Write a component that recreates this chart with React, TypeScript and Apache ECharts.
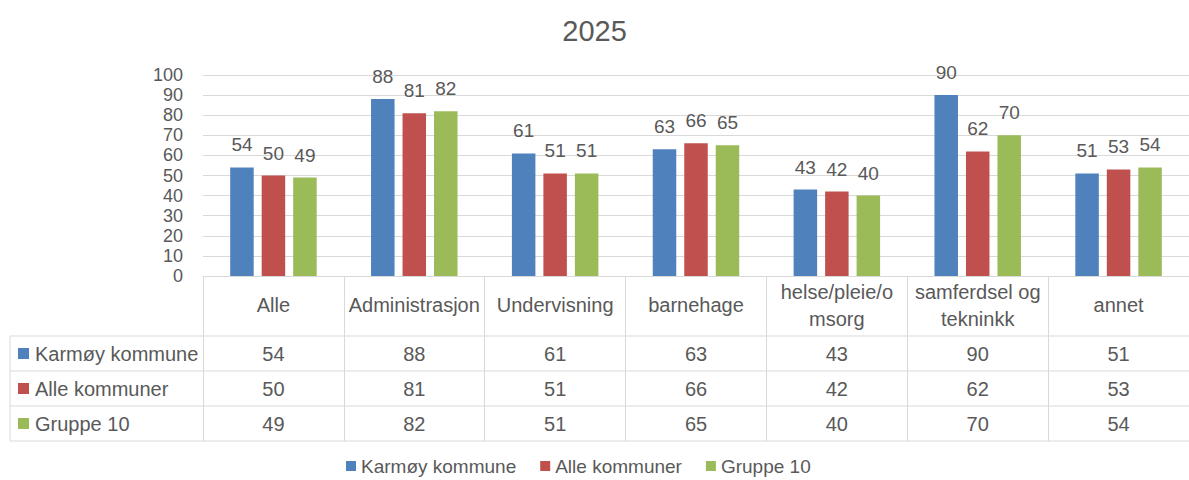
import React, { useEffect, useRef } from "react";
import * as echarts from "echarts";

const categories = [
  "Alle",
  "Administrasjon",
  "Undervisning",
  "barnehage",
  "helse/pleie/o\nmsorg",
  "samferdsel og\ntekninkk",
  "annet",
];
const seriesNames = ["Karmøy kommune", "Alle kommuner", "Gruppe 10"];
const karmoy = [54, 88, 61, 63, 43, 90, 51];
const alleKommuner = [50, 81, 51, 66, 42, 62, 53];
const gruppe10 = [49, 82, 51, 65, 40, 70, 54];
const colors = ["#4F81BD", "#C0504D", "#9BBB59"];
const yTicks = { min: 0, max: 100, interval: 10 };

const FONT = "'Liberation Sans', Arial, sans-serif";
const TEXT = "#595959";
const LINE = "#D9D9D9";

export default function App() {
  const ref = useRef<HTMLDivElement>(null);
  useEffect(() => {
    if (!ref.current) return;
    const chart = echarts.init(ref.current, null, { renderer: "svg" });
    const values = [karmoy, alleKommuner, gruppe10];
    const axisTop = 276;
    const rowLines = [336, 371, 406, 441];
    const rowCenters = [353.5, 388.5, 423.5];

    const valueAxes = values.map((arr, k) => ({
      type: "category",
      data: categories,
      position: "bottom",
      gridIndex: 0,
      axisLine: { show: false },
      axisTick: { show: false },
      splitLine: { show: false },
      axisLabel: {
        interval: 0,
        margin: rowCenters[k] - axisTop,
        verticalAlign: "middle",
        fontSize: 20,
        fontFamily: FONT,
        color: TEXT,
        formatter: (_v: string, i: number) => String(arr[i]),
      },
    }));

    const graphics: any[] = [];
    rowLines.forEach((y) =>
      graphics.push({
        type: "line",
        shape: { x1: 10, y1: y, x2: 1189, y2: y },
        style: { stroke: LINE, lineWidth: 1 },
      })
    );
    graphics.push({
      type: "line",
      shape: { x1: 10, y1: rowLines[0], x2: 10, y2: rowLines[3] },
      style: { stroke: LINE, lineWidth: 1 },
    });
    seriesNames.forEach((name, k) => {
      graphics.push({
        type: "rect",
        shape: { x: 18, y: rowCenters[k] - 5.5, width: 11, height: 11 },
        style: { fill: colors[k] },
      });
      graphics.push({
        type: "text",
        x: 35,
        y: rowCenters[k],
        style: {
          text: name,
          fill: TEXT,
          fontSize: 20,
          fontFamily: FONT,
          verticalAlign: "middle",
          align: "left",
        },
      });
    });

    chart.setOption({
      animation: false,
      backgroundColor: "#ffffff",
      title: {
        text: "2025",
        left: "center",
        top: 11,
        textStyle: { fontSize: 29, fontWeight: "normal", color: TEXT, fontFamily: FONT },
      },
      legend: {
        data: seriesNames,
        left: 346,
        top: 456,
        padding: 0,
        icon: "rect",
        itemWidth: 10,
        itemHeight: 10,
        itemGap: 24,
        textStyle: { fontSize: 19, lineHeight: 20, color: TEXT, fontFamily: FONT },
      },
      grid: { left: 203, right: -10, top: 75, bottom: 204 },
      xAxis: [
        {
          type: "category",
          data: categories,
          position: "bottom",
          axisLine: { show: true, lineStyle: { color: LINE, width: 1 } },
          axisTick: { show: true, length: 165, interval: 0, lineStyle: { color: LINE } },
          axisLabel: {
            interval: 0,
            margin: 29,
            verticalAlign: "middle",
            lineHeight: 27,
            fontSize: 20,
            fontFamily: FONT,
            color: TEXT,
          },
        },
        ...valueAxes,
      ],
      yAxis: {
        type: "value",
        min: yTicks.min,
        max: yTicks.max,
        interval: yTicks.interval,
        axisLine: { show: false },
        axisTick: { show: false },
        splitLine: { lineStyle: { color: LINE, width: 1 } },
        axisLabel: { fontSize: 18, fontFamily: FONT, color: TEXT, margin: 20 },
      },
      series: values.map((arr, k) => ({
        name: seriesNames[k],
        type: "bar",
        xAxisIndex: 0,
        data: arr,
        barWidth: 23.5,
        barGap: "34%",
        itemStyle: { color: colors[k] },
        label: {
          show: true,
          position: "top",
          distance: 13,
          fontSize: 19,
          fontFamily: FONT,
          color: TEXT,
        },
      })),
      graphic: graphics,
    });
    return () => chart.dispose();
  }, []);
  return (
    <div
      ref={ref}
      style={{ position: "fixed", left: 0, top: 0, width: 1189, height: 480, background: "#fff" }}
    />
  );
}
